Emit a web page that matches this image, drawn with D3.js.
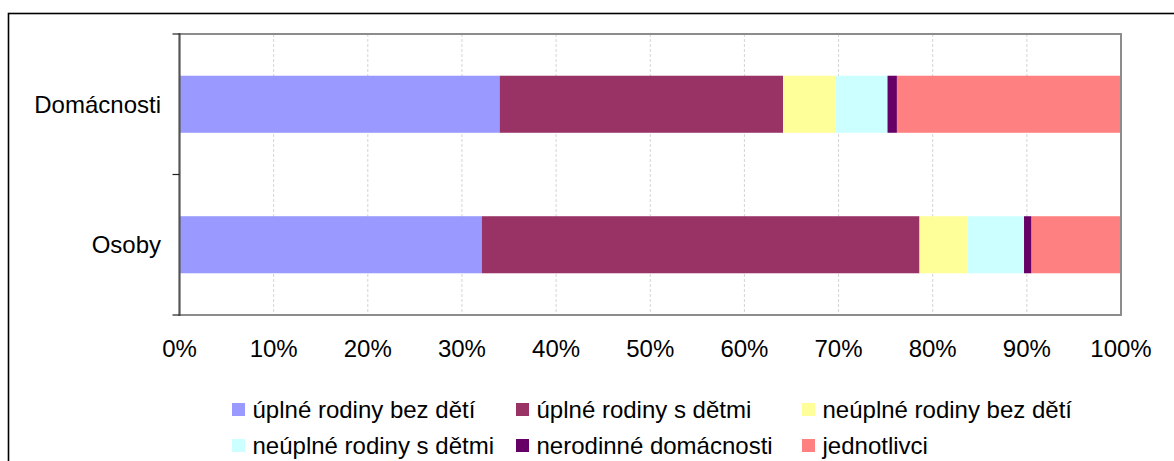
<!DOCTYPE html>
<html>
<head>
<meta charset="utf-8">
<script src="https://cdn.jsdelivr.net/npm/d3@7"></script>
<style>
  html, body { margin: 0; padding: 0; background: #fff; }
  svg { display: block; font-family: "Liberation Sans", Arial, sans-serif; }
</style>
</head>
<body>
<svg id="chart" width="1174" height="461"></svg>
<script>
const categories = ["Domácnosti", "Osoby"];
const seriesNames = ["úplné rodiny bez dětí", "úplné rodiny s dětmi", "neúplné rodiny bez dětí",
                     "neúplné rodiny s dětmi", "nerodinné domácnosti", "jednotlivci"];
const seriesColors = ["#9999FF", "#993366", "#FFFF99", "#CCFFFF", "#660066", "#FF8080"];
// values in percent, per category (same order as categories)
const domacnostiValues = [34.0, 30.1, 5.6, 5.5, 1.0, 23.8];
const osobyValues      = [32.1, 46.5, 5.1, 6.0, 0.8, 9.5];
const tickValues = [0, 10, 20, 30, 40, 50, 60, 70, 80, 90, 100];

const valuesByCat = { "Domácnosti": domacnostiValues, "Osoby": osobyValues };

const svg = d3.select("#chart");

// outer frame
svg.append("rect").attr("x", 8.5).attr("y", 13.5).attr("width", 1180).attr("height", 470)
  .attr("fill", "none").attr("stroke", "#000").attr("stroke-width", 1.6);

const pLeft = 179.5, pRight = 1121, pTop = 34, pBottom = 315;

const x = d3.scaleLinear().domain([0, 100]).range([pLeft, pRight]);
const y = d3.scaleBand().domain(categories).range([pTop, pBottom]).paddingInner(0.594).paddingOuter(0.297);

// gridlines
svg.append("g").selectAll("line").data(tickValues.slice(1, -1)).join("line")
  .attr("x1", d => x(d)).attr("x2", d => x(d)).attr("y1", pTop).attr("y2", pBottom)
  .attr("stroke", "#d4d4d4").attr("stroke-width", 1).attr("stroke-dasharray", "3,2");

// stacked data
const rows = categories.map(c => {
  const obj = { cat: c };
  seriesNames.forEach((s, i) => obj[s] = valuesByCat[c][i]);
  return obj;
});
const stack = d3.stack().keys(seriesNames)(rows);

svg.append("g").selectAll("g").data(stack).join("g")
  .attr("fill", (d, i) => seriesColors[i])
  .selectAll("rect").data(d => d).join("rect")
  .attr("x", d => x(d[0]))
  .attr("width", d => x(d[1]) - x(d[0]))
  .attr("y", d => y(d.data.cat))
  .attr("height", y.bandwidth());

// plot area border (top, right, bottom gray)
svg.append("path")
  .attr("d", `M${pLeft},${pTop}H${pRight}V${pBottom}H${pLeft}`)
  .attr("fill", "none").attr("stroke", "#8c8c8c").attr("stroke-width", 2);

// left axis line
svg.append("line").attr("x1", pLeft).attr("x2", pLeft).attr("y1", pTop - 1).attr("y2", pBottom + 1)
  .attr("stroke", "#555").attr("stroke-width", 2.2);

// left axis ticks at category boundaries
const boundaries = [pTop, (pTop + pBottom) / 2, pBottom];
svg.append("g").selectAll("line").data(boundaries).join("line")
  .attr("x1", pLeft - 7).attr("x2", pLeft).attr("y1", d => d).attr("y2", d => d)
  .attr("stroke", "#222").attr("stroke-width", 1.2);

// category labels
svg.append("g").selectAll("text").data(categories).join("text")
  .attr("x", 161).attr("y", d => y(d) + y.bandwidth() / 2 + 8.5)
  .attr("text-anchor", "end").attr("font-size", 24).attr("fill", "#000")
  .text(d => d);

// x tick labels
svg.append("g").selectAll("text").data(tickValues).join("text")
  .attr("x", d => x(d)).attr("y", 357)
  .attr("text-anchor", "middle").attr("font-size", 24).attr("fill", "#000")
  .text(d => d + "%");

// legend
const legendCols = [232, 516, 802];
const legendRows = [403, 439];
const legend = svg.append("g").selectAll("g").data(seriesNames).join("g")
  .attr("transform", (d, i) => `translate(${legendCols[i % 3]},${legendRows[Math.floor(i / 3)]})`);
legend.append("rect").attr("width", 13).attr("height", 13).attr("fill", (d, i) => seriesColors[i]);
legend.append("text").attr("x", 20.5).attr("y", 14.5).attr("font-size", 24).attr("fill", "#000")
  .text(d => d);
</script>
</body>
</html>
